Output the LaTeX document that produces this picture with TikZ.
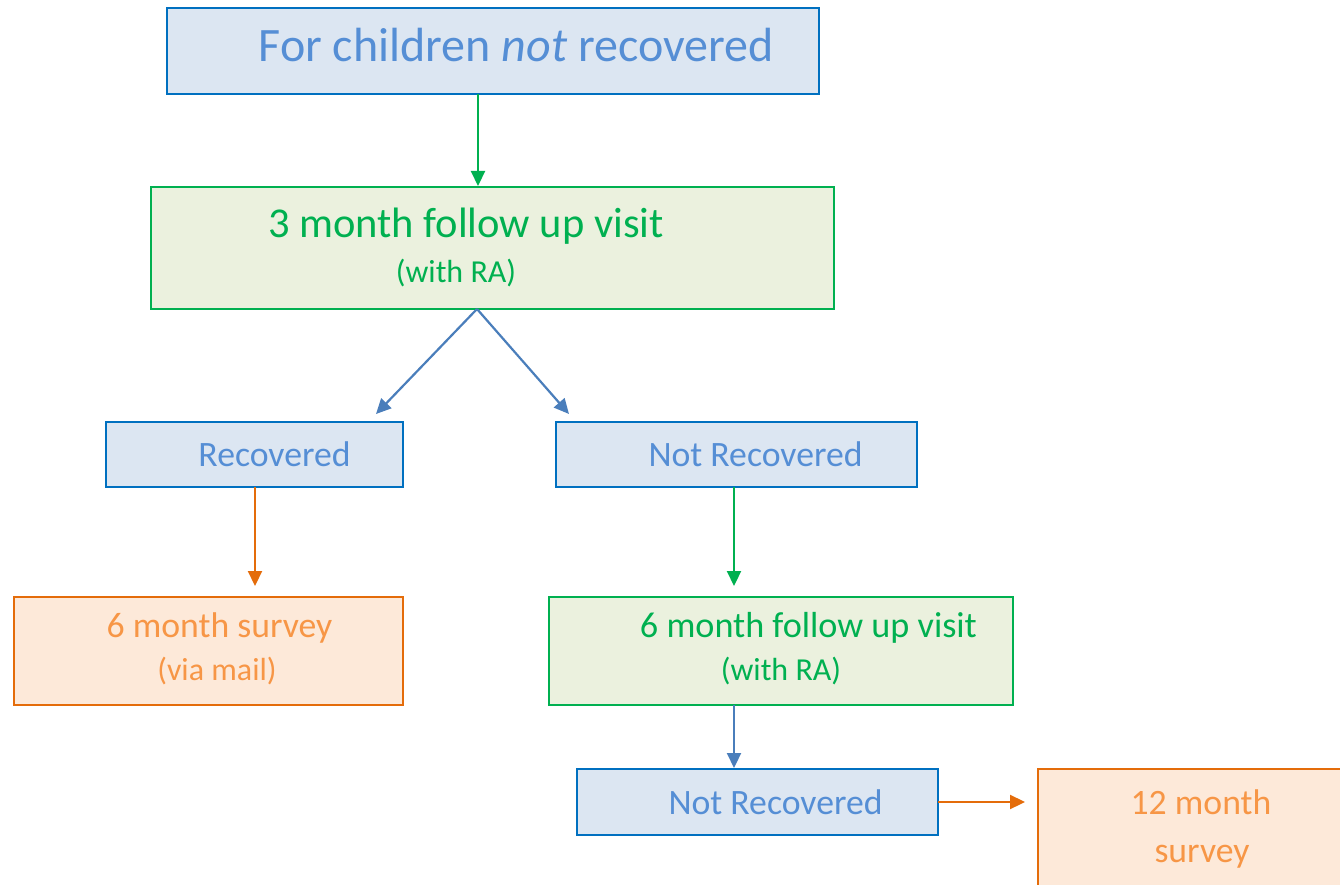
\documentclass[tikz,border=0pt]{standalone}
\usepackage{fontspec}
\setmainfont{Carlito}
\usetikzlibrary{arrows.meta}
\definecolor{bfill}{HTML}{DCE6F2}
\definecolor{bline}{HTML}{0070C0}
\definecolor{btext}{HTML}{558ED5}
\definecolor{barrow}{HTML}{4A7EBB}
\definecolor{gfill}{HTML}{EBF1DE}
\definecolor{gline}{HTML}{00B050}
\definecolor{ofill}{HTML}{FDE9D9}
\definecolor{oline}{HTML}{E46C0A}
\definecolor{otext}{HTML}{F79646}
\begin{document}
\begin{tikzpicture}[x=1pt,y=-1pt,
  boxbase/.style={rectangle, line width=2.5pt, inner sep=0pt, outer sep=0pt},
  bluebox/.style={boxbase, draw=bline, fill=bfill},
  greenbox/.style={boxbase, draw=gline, fill=gfill},
  orangebox/.style={boxbase, draw=oline, fill=ofill},
  txt/.style={anchor=base, inner sep=0pt},
  fs/.style={font=\fontsize{#1}{#1}\selectfont},
  conn/.style={line width=2.2pt, -{Triangle[width=14pt,length=15pt]}},
  barr/.style={conn, draw=barrow, fill=barrow},
  garr/.style={conn, draw=gline, fill=gline},
  oarr/.style={conn, draw=oline, fill=oline}]
\clip (0,0) rectangle (1340,885);
\fill[white] (0,0) rectangle (1340,885);

% boxes
\node[bluebox, minimum width=652pt, minimum height=86pt] (top) at (493,51) {};
\node[greenbox, minimum width=683pt, minimum height=122pt] (m3) at (492.5,248) {};
\node[bluebox, minimum width=297pt, minimum height=65pt] (rec) at (254.5,454.5) {};
\node[bluebox, minimum width=361pt, minimum height=65pt] (nrec) at (736.5,454.5) {};
\node[orangebox, minimum width=389pt, minimum height=108pt] (s6) at (208.5,651) {};
\node[greenbox, minimum width=464pt, minimum height=108pt] (f6) at (781,651) {};
\node[bluebox, minimum width=361pt, minimum height=66pt] (nrec2) at (757.5,802) {};
\node[orangebox, minimum width=312pt, minimum height=131pt] (s12) at (1194,834.5) {};

% texts
\node[txt, fs=48, text=btext] (toptxt) at (516,62) {For children \textit{not} recovered};
\node[txt, fs=42.5, text=gline] (m3txt) at (466,238) {3 month follow up visit};
\node[txt, fs=32, text=gline] (m3sub) at (456,282) {(with RA)};
\node[txt, fs=35.7, text=btext] (rectxt) at (274.5,466) {Recovered};
\node[txt, fs=35.7, text=btext] (nrectxt) at (755.5,466) {Not Recovered};
\node[txt, fs=35.7, text=otext] (s6txt) at (219.5,637) {6 month survey};
\node[txt, fs=32, text=otext] (s6sub) at (217,680) {(via mail)};
\node[txt, fs=36.2, text=gline] (f6txt) at (808.5,637) {6 month follow up visit};
\node[txt, fs=32, text=gline] (f6sub) at (781,680) {(with RA)};
\node[txt, fs=35.7, text=btext] (nrec2txt) at (775.5,814) {Not Recovered};
\node[txt, fs=35.7, text=otext] (s12a) at (1201,814) {12 month};
\node[txt, fs=35.7, text=otext] (s12b) at (1202,862) {survey};

% connector ends
\coordinate (a1) at (478,186);
\coordinate (apex) at (477,309);
\coordinate (a2) at (376,414);
\coordinate (a3) at (569,414);
\coordinate (a4) at (255,586);
\coordinate (a5) at (734,586);
\coordinate (a6) at (734,768);
\coordinate (a7) at (1025,802);

% connectors
\draw[garr] (top.south -| a1) -- (a1);
\draw[barr] (m3.south -| apex) -- (a2);
\draw[barr] (m3.south -| apex) -- (a3);
\draw[oarr] (rec.south -| a4) -- (a4);
\draw[garr] (nrec.south -| a5) -- (a5);
\draw[barr] (f6.south -| a6) -- (a6);
\draw[oarr] (nrec2.east) -- (a7);
\end{tikzpicture}
\end{document}
